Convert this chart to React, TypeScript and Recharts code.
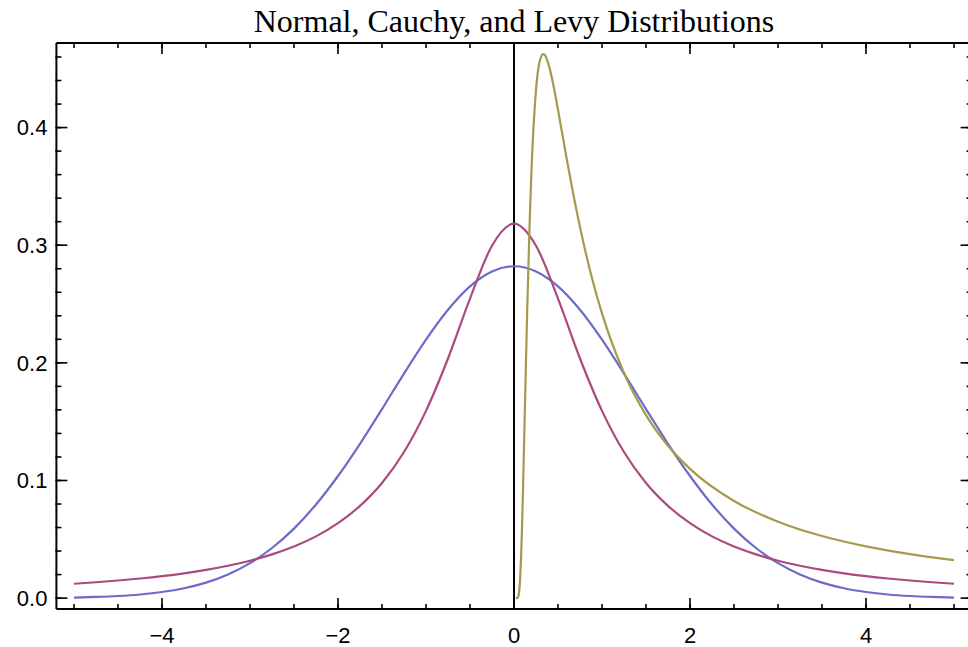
import React from 'react';
import { LineChart, Line, XAxis, YAxis, ReferenceLine } from 'recharts';

const xGrid = [-5, -4.75, -4.5, -4.25, -4, -3.75, -3.5, -3.25, -3, -2.75, -2.5, -2.25, -2, -1.75, -1.5, -1.25, -1, -0.75, -0.5, -0.25, 0, 0.25, 0.5, 0.75, 1, 1.25, 1.5, 1.75, 2, 2.25, 2.5, 2.75, 3, 3.25, 3.5, 3.75, 4, 4.25, 4.5, 4.75, 5];
const normalValues = [0.0005, 0.0010, 0.0018, 0.0031, 0.0052, 0.0084, 0.0132, 0.0201, 0.0297, 0.0426, 0.0591, 0.0796, 0.1038, 0.1312, 0.1607, 0.1909, 0.2197, 0.2451, 0.2650, 0.2777, 0.2821, 0.2777, 0.2650, 0.2451, 0.2197, 0.1909, 0.1607, 0.1312, 0.1038, 0.0796, 0.0591, 0.0426, 0.0297, 0.0201, 0.0132, 0.0084, 0.0052, 0.0031, 0.0018, 0.0010, 0.0005];
const cauchyValues = [0.0122, 0.0135, 0.0150, 0.0167, 0.0187, 0.0211, 0.0240, 0.0275, 0.0318, 0.0372, 0.0439, 0.0525, 0.0637, 0.0784, 0.0979, 0.1242, 0.1592, 0.2037, 0.2546, 0.2996, 0.3183, 0.2996, 0.2546, 0.2037, 0.1592, 0.1242, 0.0979, 0.0784, 0.0637, 0.0525, 0.0439, 0.0372, 0.0318, 0.0275, 0.0240, 0.0211, 0.0187, 0.0167, 0.0150, 0.0135, 0.0122];
const levyX = [0.02, 0.04, 0.05, 0.06, 0.07, 0.08, 0.09, 0.1, 0.12, 0.15, 0.18, 0.2, 0.25, 0.3, 0.333, 0.35, 0.4, 0.45, 0.5, 0.6, 0.7, 0.8, 0.9, 1, 1.25, 1.5, 1.75, 2, 2.5, 3, 3.5, 4, 4.5, 5];
const levyValues = [0, 0.0002, 0.0016, 0.0065, 0.0170, 0.0340, 0.0571, 0.0850, 0.1488, 0.2450, 0.3248, 0.3661, 0.4319, 0.4586, 0.4625, 0.4617, 0.4518, 0.4351, 0.4151, 0.3731, 0.3335, 0.2984, 0.2681, 0.2420, 0.1914, 0.1556, 0.1295, 0.1099, 0.0826, 0.0650, 0.0528, 0.0440, 0.0374, 0.0323];

const xMajorTicks = [-4, -2, 0, 2, 4];
const xMinorTicks = [-5, -4.5, -4, -3.5, -3, -2.5, -2, -1.5, -1, -0.5, 0, 0.5, 1, 1.5, 2, 2.5, 3, 3.5, 4, 4.5, 5];
const yMajorTicks = [0, 0.1, 0.2, 0.3, 0.4];
const yMinorTicks = [0, 0.02, 0.04, 0.06, 0.08, 0.1, 0.12, 0.14, 0.16, 0.18, 0.2, 0.22, 0.24, 0.26, 0.28, 0.3, 0.32, 0.34, 0.36, 0.38, 0.4, 0.42, 0.44, 0.46];

const title = 'Normal, Cauchy, and Levy Distributions';

const normalData = xGrid.map((x, i) => ({ x, y: normalValues[i] }));
const cauchyData = xGrid.map((x, i) => ({ x, y: cauchyValues[i] }));
const levyData = levyX.map((x, i) => ({ x, y: levyValues[i] }));

const X_DOMAIN: [number, number] = [-5.2, 5.2];
const Y_DOMAIN: [number, number] = [-0.00925, 0.4719];

const lineStyle = { stroke: '#000', strokeWidth: 2 };
const tickStyle = { stroke: '#000', strokeWidth: 1.6 };
const labelFont = { fill: '#000', fontSize: 22, fontFamily: '"Liberation Sans", Arial, sans-serif' };
const empty = () => '';

const fmtX = (v: number) => (v < 0 ? '\u2212' + Math.abs(v) : String(v));
const fmtY = (v: number) => v.toFixed(1);

export default function App() {
  return (
    <div style={{ position: 'absolute', left: 0, top: 0, width: 968, height: 647, overflow: 'hidden', background: '#fff' }}>
      <svg width={968} height={50} style={{ position: 'absolute', left: 0, top: 0 }}>
        <text x={514} y={32} textAnchor="middle" fontFamily='"Liberation Serif", "Times New Roman", serif' fontSize={32} fill="#000">
          {title}
        </text>
      </svg>
      <div style={{ position: 'absolute', left: 0, top: 0 }}>
        <LineChart width={980} height={660} margin={{ top: 41, right: 6.4, bottom: 49, left: 54.4 }}>
          <XAxis xAxisId="b" dataKey="x" type="number" orientation="bottom" domain={X_DOMAIN} allowDataOverflow
            ticks={xMajorTicks} interval={0} height={1} tickSize={-11} tickMargin={29}
            axisLine={lineStyle} tickLine={tickStyle} tick={labelFont} tickFormatter={fmtX} />
          <XAxis xAxisId="bm" dataKey="x" type="number" orientation="bottom" domain={X_DOMAIN} allowDataOverflow
            ticks={xMinorTicks} interval={0} height={1} tickSize={-6}
            axisLine={false} tickLine={tickStyle} tickFormatter={empty} />
          <XAxis xAxisId="t" dataKey="x" type="number" orientation="top" domain={X_DOMAIN} allowDataOverflow
            ticks={xMajorTicks} interval={0} height={1} tickSize={-11}
            axisLine={lineStyle} tickLine={tickStyle} tickFormatter={empty} />
          <XAxis xAxisId="tm" dataKey="x" type="number" orientation="top" domain={X_DOMAIN} allowDataOverflow
            ticks={xMinorTicks} interval={0} height={1} tickSize={-6}
            axisLine={false} tickLine={tickStyle} tickFormatter={empty} />

          <YAxis yAxisId="l" type="number" orientation="left" domain={Y_DOMAIN} allowDataOverflow
            ticks={yMajorTicks} interval={0} width={1} tickSize={-11} tickMargin={20}
            axisLine={lineStyle} tickLine={tickStyle} tick={labelFont} tickFormatter={fmtY} />
          <YAxis yAxisId="lm" type="number" orientation="left" domain={Y_DOMAIN} allowDataOverflow
            ticks={yMinorTicks} interval={0} width={1} tickSize={-6}
            axisLine={false} tickLine={tickStyle} tickFormatter={empty} />
          <YAxis yAxisId="r" type="number" orientation="right" domain={Y_DOMAIN} allowDataOverflow
            ticks={yMajorTicks} interval={0} width={1} tickSize={-11}
            axisLine={lineStyle} tickLine={tickStyle} tickFormatter={empty} />
          <YAxis yAxisId="rm" type="number" orientation="right" domain={Y_DOMAIN} allowDataOverflow
            ticks={yMinorTicks} interval={0} width={1} tickSize={-6}
            axisLine={false} tickLine={tickStyle} tickFormatter={empty} />

          <ReferenceLine xAxisId="b" yAxisId="l" x={0} stroke="#000" strokeWidth={2} />

          <Line xAxisId="b" yAxisId="l" data={normalData} dataKey="y" type="monotone" stroke="#6c6cc8" strokeWidth={2.2} dot={false} isAnimationActive={false} />
          <Line xAxisId="b" yAxisId="l" data={cauchyData} dataKey="y" type="monotone" stroke="#ab4a7e" strokeWidth={2.2} dot={false} isAnimationActive={false} />
          <Line xAxisId="b" yAxisId="l" data={levyData} dataKey="y" type="monotone" stroke="#a69a4e" strokeWidth={2.2} dot={false} isAnimationActive={false} />
        </LineChart>
      </div>
    </div>
  );
}
